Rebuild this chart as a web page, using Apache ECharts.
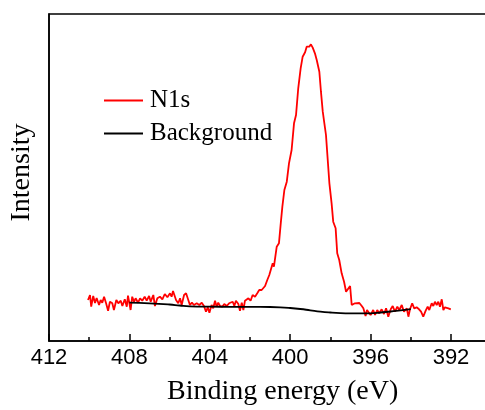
<!DOCTYPE html>
<html>
<head>
<meta charset="utf-8">
<script src="https://cdn.jsdelivr.net/npm/echarts@6/dist/echarts.min.js"></script>
<style>html,body{margin:0;padding:0;background:#fff;}#c{width:485px;height:410px;}</style>
</head>
<body>
<div id="c"></div>
<script>
// Binding energy (eV) and intensity (a.u.) of the N1s spectrum
var n1sEnergy = [410.06,409.96,409.90,409.80,409.71,409.63,409.51,409.43,409.35,409.26,409.16,409.06,408.97,408.85,408.77,408.65,408.55,408.43,408.35,408.23,408.13,408.07,407.94,407.86,407.77,407.69,407.57,407.47,407.36,407.24,407.14,407.02,406.94,406.81,406.73,406.61,406.48,406.36,406.24,406.11,405.98,405.90,405.83,405.68,405.57,405.48,405.40,405.28,405.18,405.07,404.99,404.89,404.79,404.65,404.52,404.40,404.29,404.19,404.10,404.02,403.91,403.83,403.74,403.66,403.58,403.49,403.38,403.28,403.16,403.04,402.95,402.86,402.78,402.70,402.58,402.50,402.41,402.33,402.25,402.16,402.08,401.97,401.87,401.75,401.64,401.54,401.42,401.25,401.14,401.04,400.96,400.87,400.81,400.74,400.67,400.56,400.47,400.39,400.29,400.17,400.06,399.93,399.81,399.71,399.60,399.48,399.38,399.26,399.18,399.10,399.05,398.97,398.88,398.77,398.68,398.55,398.47,398.38,398.30,398.22,398.15,398.05,397.94,397.86,397.74,397.66,397.56,397.44,397.32,397.22,397.14,397.02,396.94,396.78,396.56,396.44,396.36,396.25,396.18,396.11,396.00,395.87,395.78,395.67,395.57,395.45,395.33,395.23,395.12,395.00,394.90,394.79,394.67,394.57,394.45,394.34,394.20,394.12,394.04,393.93,393.83,393.71,393.59,393.49,393.38,393.26,393.16,393.08,392.96,392.88,392.80,392.71,392.63,392.55,392.46,392.38,392.30,392.21,392.13,392.01];
var n1sIntensity = [41,46,34.3,45,38,43,36,41,38.3,44.3,37.7,30.3,39.3,37.7,31,41,37.7,40.3,35,41.7,34.3,45.3,31,44.3,39.3,42.7,38.3,42.7,40.3,44.3,40.3,45,39.3,46,35,42.7,44.3,41.7,47,43.7,47.7,44.3,50,41,37.7,42.7,36,46,47.7,41,36,38.3,36,37.7,36,38.3,35,29.3,33.7,28.3,36,32.7,40.3,34.3,38.3,35,34.3,37,35,37.7,36,39.3,35,40.3,37,30.3,38.3,31,40.3,38.3,42.7,40.3,46,44.3,47.7,51,51,55,61,66,64.3,77.7,74.3,76,94.3,97.7,117.7,134.3,151,159.3,177.7,191,217.7,226,252.7,272.7,284.3,288.7,294.3,295.3,294.3,296.7,293.3,287.7,281,269.3,249.3,229.3,217.7,206,186,157.7,137.7,119.3,112.7,87.7,81,67.7,59.3,49.3,47.7,55,36,37.7,38,35,32.7,25,31,29.3,26,31,26,31,27.7,31.7,27,32.7,24.3,31.7,35,29.3,34.3,31,36,29.3,32.7,24.3,31.7,37.7,32.7,33.7,31.7,29.3,24.3,30.3,34.3,31,37.7,35,39.3,36,39.3,34.3,41.7,31,33.7,31.7,32.7,31.7];
// Background
var bgEnergy = [408.0,407.0,406.0,405.5,405.0,404.0,403.0,402.0,401.0,400.5,400.0,399.5,399.0,398.5,398.0,397.5,397.0,396.0,395.5,395.0,394.5,394.0];
var bgIntensity = [38.3,37.7,36.5,35.5,34.7,34.3,34.2,34.1,34,33.7,33,32,30.7,29.4,28.5,27.9,27.7,27.7,28.5,29.5,30.7,31.8];
var seriesNames = ['N1s', 'Background'];
var xAxisName = 'Binding energy (eV)';
var yAxisName = 'Intensity';

function pairs(xs, ys) { return xs.map(function (x, i) { return [x, ys[i]]; }); }

var serif = "'Liberation Serif', 'Times New Roman', serif";
var sans = "'Liberation Sans', Arial, sans-serif";

var chart = echarts.init(document.getElementById('c'), null, { renderer: 'canvas' });
chart.setOption({
  animation: false,
  backgroundColor: '#fff',
  grid: { left: 49, top: 14, width: 482.4, height: 327, show: true, borderColor: '#000', borderWidth: 1.5,
          containLabel: false, outerBoundsMode: 'none' },
  legend: {
    left: 104, top: 88, padding: 0, orient: 'vertical', itemWidth: 39, itemHeight: 2, itemGap: 8, icon: 'rect',
    textStyle: { fontFamily: serif, fontSize: 25, color: '#000', padding: [0, 0, 0, 2] },
    data: seriesNames
  },
  xAxis: {
    type: 'value', inverse: true, min: 388, max: 412, interval: 4,
    name: xAxisName, nameLocation: 'middle', nameGap: 37,
    nameTextStyle: { fontFamily: serif, fontSize: 28, color: '#000', padding: [0, 15, 0, 0] },
    axisLine: { show: true, lineStyle: { color: '#000', width: 1.5 } },
    axisTick: { show: true, inside: true, length: 7, lineStyle: { color: '#000', width: 1.5 } },
    minorTick: { show: true, splitNumber: 2, length: 4, lineStyle: { color: '#000', width: 1.5 } },
    axisLabel: { fontFamily: sans, fontSize: 22, color: '#000', margin: 6 },
    splitLine: { show: false }
  },
  yAxis: {
    type: 'value', min: 0, max: 327,
    name: yAxisName, nameLocation: 'middle', nameGap: 13,
    nameTextStyle: { fontFamily: serif, fontSize: 28, color: '#000', padding: [0, 0, 0, 10] },
    axisLine: { show: true, lineStyle: { color: '#000', width: 1.5 } },
    axisTick: { show: false }, axisLabel: { show: false }, splitLine: { show: false }
  },
  series: [
    { name: seriesNames[0], type: 'line', data: pairs(n1sEnergy, n1sIntensity), showSymbol: false, symbol: 'none',
      lineStyle: { color: '#ff0000', width: 1.8 }, itemStyle: { color: '#ff0000' } },
    { name: seriesNames[1], type: 'line', data: pairs(bgEnergy, bgIntensity), showSymbol: false, symbol: 'none', smooth: true,
      lineStyle: { color: '#000', width: 1.8 }, itemStyle: { color: '#000' } }
  ]
});
</script>
</body>
</html>
